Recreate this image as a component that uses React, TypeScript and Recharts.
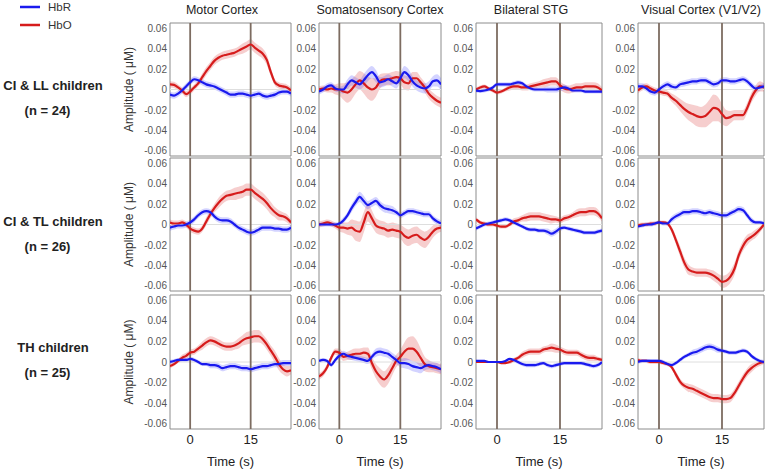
import React from 'react';
import { ComposedChart, Line, Area, XAxis, YAxis, ReferenceLine, ReferenceArea } from 'recharts';

// ---------- categories / labels ----------
const regions = ['Motor Cortex', 'Somatosensory Cortex', 'Bilateral STG', 'Visual Cortex (V1/V2)'];
const groups = ['CI & LL children', 'CI & TL children', 'TH children'];
const groupN = ['(n = 24)', '(n = 26)', '(n = 25)'];
const seriesNames = ['HbR', 'HbO'];
const yTicks = [60, 40, 20, 0, -20, -40, -60];
const yTickLabels = ['0.06', '0.04', '0.02', '0', '-0.02', '-0.04', '-0.06'];
const xTicks = [0, 15];
const stimLines = [0, 15];
const yLabel = 'Amplitude ( μM)';
const xLabel = 'Time (s)';

// time axis (s)
const time = [-5, -4, -3, -2, -1, 0, 1, 2, 3, 4, 5, 6, 7, 8, 9, 10, 11, 12, 13, 14, 15, 16, 17, 18, 19, 20, 21, 22, 23, 24, 25];

// ---------- values in units of 0.001 μM ----------
// CI & LL children
const hboLLMotor = [5, 4.5, 2, -1, -4.5, -2, 2, 6, 12, 18, 23, 28, 31, 33, 34, 35, 36, 38, 40, 42, 44, 41, 38, 35, 29, 17, 7, 4, 3, 2, -1];
const hbrLLMotor = [-5, -6, -4, -1, 3, 7, 10, 9, 7, 5, 4, 3, 1, -1, -3, -5, -5, -4, -4, -5, -6, -5, -4, -6, -7, -6, -5, -3, -2, -2, -4];
const hboLLSoma = [0, 1, 0, 1, 0, 0, -2, -3, 0, 5, 9, 6, 2, 0, 2, 8, 10, 10, 11, 12, 11, 7, 6, 11, 11, 7, 2, -4, -8, -11, -13];
const hbrLLSoma = [-2, 0, 3, 4, 1, 0, 0, 5, 9, 7, 5, 9, 14, 17, 13, 7, 8, 10, 8, 6, 11, 17, 14, 8, 4, 2, 1, 3, 8, 9, 5];
const hboLLStg = [0, 2, 3, 1, -1, -3, -2, 0, 2, 3, 3, 2, 2, 3, 4, 5, 6, 7, 8, 8, 4, 1, 0, 1, 2, 2, 3, 3, 3, 2, -1];
const hbrLLStg = [-1, -1.5, -1, 0, 2, 5, 5, 5, 5, 6, 7, 6, 3, 1, 0, 0, 0, 0, 0, 0, 1, 2, 1, -1, -1, -1, -2, -2, -2, -2, -2];
const hboLLVis = [-1, 2, 3, 1, -1, -2, -3, -4, -8, -11, -15, -19, -22, -24, -26, -27, -26, -22, -18, -19, -24, -28, -27, -25, -25, -25, -18, -8, -1, 3, 2];
const hbrLLVis = [3, 3, 1, -2, -3, 0, 3, 5, 3, 2, 5, 6, 7, 8, 8, 9, 9, 7, 5, 6, 9, 9, 8, 8, 9, 10, 8, 4, 1, 2, 3];

const errHboLLMotor = [3, 3, 3, 3, 3, 3, 3, 3, 4, 4, 4, 4, 4, 4, 4, 4, 4, 4, 5, 5, 5, 5, 5, 5, 5, 4, 3, 3, 3, 3, 3];
const errHbrLLMotor = [3, 3, 3, 3, 3, 3, 3, 3, 3, 3, 3, 3, 3, 3, 3, 3, 3, 3, 3, 3, 3, 3, 3, 3, 3, 3, 3, 3, 3, 3, 3];
const errHboLLSoma = [3, 3, 3, 4, 5, 6, 8, 10, 10, 9, 9, 10, 11, 11, 9, 7, 6, 6, 6, 6, 6, 7, 7, 6, 6, 5, 5, 5, 5, 5, 5];
const errHbrLLSoma = [3, 3, 3, 3, 3, 3, 4, 5, 5, 5, 5, 6, 6, 6, 6, 5, 5, 5, 5, 5, 5, 6, 6, 5, 5, 5, 5, 5, 5, 6, 6];
const errHboLLStg = [2, 2, 2, 2, 2, 2, 2, 2, 3, 3, 3, 3, 3, 3, 3, 3, 4, 4, 4, 4, 4, 4, 4, 4, 4, 4, 4, 4, 4, 4, 3];
const errHbrLLStg = [2, 2, 2, 2, 2, 2, 2, 2, 2, 2, 2, 2, 2, 2, 2, 2, 2, 3, 3, 3, 3, 3, 2, 2, 2, 2, 2, 2, 2, 2, 2];
const errHboLLVis = [3, 3, 3, 3, 3, 3, 3, 3, 4, 5, 6, 7, 8, 9, 10, 10, 11, 12, 13, 12, 10, 8, 6, 5, 5, 5, 5, 5, 5, 5, 4];
const errHbrLLVis = [3, 3, 3, 3, 3, 3, 3, 3, 3, 3, 3, 3, 3, 3, 3, 3, 3, 3, 3, 3, 3, 3, 3, 3, 3, 3, 3, 3, 3, 3, 3];

// CI & TL children
const hboTLMotor = [2, 1, 1, 2, 0, -4, -6, -7, -4, 3, 10, 16, 21, 25, 28, 29, 30, 31, 32, 34, 34, 31, 28, 25, 21, 16, 12, 9, 8, 6, 2];
const hbrTLMotor = [-3, -2, -1, -1, 0, 2, 5, 9, 12, 13, 12, 8, 5, 4, 4, 3, 0, -3, -5, -7, -8, -7, -5, -3, -3, -3, -4, -4, -5, -5, -3];
const hboTLSoma = [0, 1, 2, 1, -1, -3, -3, -4, -3, -6, -7, 2, 12, 6, -1, -3, -4, -6, -5, -6, -7, -11, -13, -11, -10, -13, -15, -12, -7, -4, -3];
const hbrTLSoma = [0, 0, 0, 0, 0, 1, 4, 9, 16, 22, 27, 23, 19, 21, 23, 19, 16, 15, 14, 12, 9, 11, 13, 13, 12, 11, 10, 10, 6, 3, 1];
const hboTLStg = [5, 2, 1, 0, 0, -1, -2, -2, 0, 3, 4, 6, 7, 8, 8, 8, 7, 6, 5, 5, 4, 6, 7, 9, 11, 12, 12, 13, 13, 11, 6];
const hbrTLStg = [-4, -2, 0, 1, 2, 3, 4, 5, 4, 2, 0, -2, -4, -5, -5, -6, -6, -7, -9, -7, -4, -3, -4, -5, -6, -7, -8, -8, -8, -7, -6];
const hboTLVis = [-1, 0, 0, 1, 1, 2, 2, 1, -5, -15, -26, -37, -44, -46, -47, -47, -47, -48, -50, -53, -56, -55, -51, -43, -30, -21, -15, -12, -9, -5, 0];
const hbrTLVis = [-2, -1, 0, 0, 1, 2, 1, 1, 5, 8, 10, 12, 12, 13, 13, 12, 11, 12, 11, 10, 9, 9, 11, 13, 15, 14, 9, 4, 2, 2, 1];

const errHboTLMotor = [3, 3, 3, 3, 3, 3, 3, 3, 3, 4, 4, 4, 5, 5, 5, 5, 6, 6, 6, 6, 6, 6, 6, 6, 6, 6, 5, 5, 4, 4, 3];
const errHbrTLMotor = [3, 3, 3, 3, 3, 3, 3, 3, 3, 3, 3, 3, 3, 3, 3, 3, 3, 3, 3, 3, 3, 3, 3, 3, 3, 3, 3, 3, 3, 3, 3];
const errHboTLSoma = [3, 3, 3, 3, 3, 4, 5, 6, 8, 10, 10, 10, 9, 8, 7, 7, 7, 7, 7, 7, 7, 8, 8, 8, 8, 8, 8, 7, 6, 5, 4];
const errHbrTLSoma = [2, 2, 2, 2, 2, 2, 3, 3, 4, 4, 5, 5, 4, 4, 4, 4, 4, 4, 4, 3, 3, 3, 3, 3, 3, 3, 3, 3, 3, 3, 3];
const errHboTLStg = [2, 2, 2, 2, 2, 2, 2, 2, 2, 3, 3, 3, 4, 4, 4, 4, 4, 4, 4, 3, 3, 3, 3, 3, 4, 4, 4, 4, 4, 4, 3];
const errHbrTLStg = [2, 2, 2, 2, 2, 2, 2, 2, 2, 2, 2, 2, 2, 2, 2, 2, 2, 3, 3, 3, 3, 2, 2, 2, 2, 2, 2, 2, 2, 2, 2];
const errHboTLVis = [2, 2, 2, 2, 2, 2, 2, 2, 3, 4, 5, 5, 5, 4, 4, 4, 4, 4, 5, 5, 6, 6, 6, 6, 5, 5, 5, 4, 4, 3, 2];
const errHbrTLVis = [2, 2, 2, 2, 2, 2, 2, 2, 3, 3, 3, 3, 3, 3, 3, 3, 3, 3, 3, 3, 3, 3, 3, 3, 3, 3, 3, 3, 2, 2, 2];

// TH children
const hboTHMotor = [-4, -2, 1, 4, 6, 9, 10, 13, 16, 19, 21, 20, 18, 16, 15, 15, 16, 18, 21, 23, 24, 25, 25, 22, 17, 11, 5, -2, -7, -9, -8];
const hbrTHMotor = [0, 1, 2, 2, 2, 3, 2, 0, -2, -2, -3, -3, -4, -6, -5, -4, -4, -5, -6, -6, -7, -6, -5, -4, -4, -3, -2, -2, -1, -1, -1];
const hboTHSoma = [-14, -11, -5, 4, 10, 9, 5, 6, 7, 8, 8, 9, 8, -1, -9, -14, -17, -13, -6, 1, 5, 10, 13, 13, 10, 4, -2, -4, -5, -6, -7];
const hbrTHSoma = [1, 2, 1, -3, 2, 6, 8, 6, 5, 4, 3, 2, 1, 5, 9, 10, 9, 8, 5, 2, -1, -1, -2, -4, -5, -6, -4, -3, -4, -5, -7];
const hboTHStg = [0, 0, 0, 0, 0, 0, -1, -1, 0, 2, 4, 7, 9, 10, 10, 10, 12, 13, 14, 13, 12, 10, 9, 9, 9, 7, 5, 4, 4, 3, 2];
const hbrTHStg = [1, 1, 1, 0, 0, 0, 0, 1, 3, 2, 0, -2, -3, -3, -3, -2, -1, -3, -4, -3, -2, -1, -1, -1, -1, -1, -2, -3, -4, -3, 0];
const hboTHVis = [2, 1, 1, 0, 0, 0, -1, -2, -5, -12, -19, -23, -25, -26, -28, -30, -32, -34, -35, -35, -36, -36, -35, -30, -23, -16, -10, -6, -3, -1, 0];
const hbrTHVis = [0, 1, 1, 1, 1, 1, 0, -2, -3, -1, 2, 5, 7, 9, 10, 12, 14, 15, 14, 12, 11, 10, 9, 9, 10, 11, 10, 6, 3, 1, 0];

const errHboTHMotor = [2, 2, 2, 3, 3, 3, 3, 3, 4, 4, 4, 4, 4, 4, 4, 4, 4, 5, 5, 6, 6, 6, 6, 5, 5, 5, 6, 6, 5, 5, 4];
const errHbrTHMotor = [2, 2, 2, 2, 2, 2, 2, 2, 2, 2, 3, 3, 3, 3, 3, 3, 3, 3, 3, 3, 3, 3, 3, 3, 3, 3, 3, 3, 3, 3, 3];
const errHboTHSoma = [3, 3, 3, 3, 3, 4, 4, 4, 5, 5, 5, 5, 6, 6, 7, 8, 8, 8, 7, 6, 7, 9, 11, 12, 11, 9, 7, 6, 5, 5, 5];
const errHbrTHSoma = [2, 2, 2, 2, 2, 3, 3, 3, 3, 3, 3, 3, 3, 3, 4, 4, 4, 4, 4, 4, 4, 5, 5, 5, 5, 5, 4, 4, 4, 4, 4];
const errHboTHStg = [1, 1, 1, 1, 1, 1, 1, 1, 2, 2, 2, 3, 3, 3, 3, 3, 3, 3, 4, 4, 3, 3, 3, 3, 3, 3, 3, 3, 3, 2, 2];
const errHbrTHStg = [1, 1, 1, 1, 1, 1, 1, 1, 1, 2, 2, 2, 2, 2, 2, 2, 2, 2, 2, 2, 2, 2, 2, 2, 2, 2, 2, 2, 2, 2, 2];
const errHboTHVis = [2, 2, 2, 2, 2, 2, 2, 2, 2, 3, 3, 3, 4, 4, 4, 4, 4, 4, 4, 4, 4, 4, 4, 4, 4, 4, 4, 4, 3, 3, 2];
const errHbrTHVis = [2, 2, 2, 2, 2, 2, 2, 2, 2, 2, 2, 2, 2, 3, 3, 3, 3, 3, 3, 3, 2, 2, 2, 2, 2, 2, 2, 2, 2, 2, 2];

// ---------- table for the grid ----------
type PanelData = { hbo: number[]; hbr: number[]; eo: number[]; er: number[] };
const panels: PanelData[][] = [
  [
    { hbo: hboLLMotor, hbr: hbrLLMotor, eo: errHboLLMotor, er: errHbrLLMotor },
    { hbo: hboLLSoma, hbr: hbrLLSoma, eo: errHboLLSoma, er: errHbrLLSoma },
    { hbo: hboLLStg, hbr: hbrLLStg, eo: errHboLLStg, er: errHbrLLStg },
    { hbo: hboLLVis, hbr: hbrLLVis, eo: errHboLLVis, er: errHbrLLVis },
  ],
  [
    { hbo: hboTLMotor, hbr: hbrTLMotor, eo: errHboTLMotor, er: errHbrTLMotor },
    { hbo: hboTLSoma, hbr: hbrTLSoma, eo: errHboTLSoma, er: errHbrTLSoma },
    { hbo: hboTLStg, hbr: hbrTLStg, eo: errHboTLStg, er: errHbrTLStg },
    { hbo: hboTLVis, hbr: hbrTLVis, eo: errHboTLVis, er: errHbrTLVis },
  ],
  [
    { hbo: hboTHMotor, hbr: hbrTHMotor, eo: errHboTHMotor, er: errHbrTHMotor },
    { hbo: hboTHSoma, hbr: hbrTHSoma, eo: errHboTHSoma, er: errHbrTHSoma },
    { hbo: hboTHStg, hbr: hbrTHStg, eo: errHboTHStg, er: errHbrTHStg },
    { hbo: hboTHVis, hbr: hbrTHVis, eo: errHboTHVis, er: errHbrTHVis },
  ],
];

// ---------- layout / style ----------
const colLeft = [170, 319, 476, 638];
const colWidth = [121, 122, 126, 126];
const rowTop = [23, 158, 295];
const rowH = [133, 133, 134];
const titleX = [222, 380, 531, 701];
const groupY = [85, 221, 347];
const AX = 32;

const RED = '#d61c1c';
const BLUE = '#1a1aee';
const RED_BAND = 'rgba(222, 80, 80, 0.28)';
const BLUE_BAND = 'rgba(80, 80, 255, 0.25)';
const BROWN = '#7d6c61';
const FONT = '"Liberation Sans", Arial, Helvetica, sans-serif';

const Panel = ({ r, c }: { r: number; c: number }) => {
  const p = panels[r][c];
  const data = time.map((t, i) => ({
    t,
    hbo: p.hbo[i],
    hbr: p.hbr[i],
    hboBand: [p.hbo[i] - p.eo[i], p.hbo[i] + p.eo[i]],
    hbrBand: [p.hbr[i] - p.er[i], p.hbr[i] + p.er[i]],
  }));
  const bottom = r === 2;
  const w = AX + colWidth[c] + 1;
  const h = 1 + rowH[r] + (bottom ? 45 : 1);
  return (
    <div style={{ position: 'absolute', left: colLeft[c] - AX, top: rowTop[r] - 1 }}>
      <ComposedChart width={w} height={h} data={data} margin={{ top: 1, right: 1, left: 0, bottom: bottom ? 0 : 1 }}>
        <XAxis
          type="number"
          dataKey="t"
          domain={[-5, 25]}
          ticks={xTicks}
          interval={0}
          hide={!bottom}
          allowDataOverflow
          axisLine={false}
          tickLine={false}
          tickSize={0}
          tickMargin={6}
          height={45}
          tick={{ fontSize: 13, fill: '#222' }}
          label={{ value: xLabel, position: 'insideBottom', offset: 8, fontSize: 13, fill: '#222' }}
        />
        <YAxis
          type="number"
          domain={[-65, 65]}
          ticks={yTicks}
          interval={0}
          allowDataOverflow
          tickFormatter={(v: number) => yTickLabels[yTicks.indexOf(v)]}
          width={AX}
          axisLine={false}
          tickLine={false}
          tickSize={0}
          tickMargin={3}
          tick={{ fontSize: 10, fill: '#555' }}
        />
        <ReferenceArea x1={-5} x2={25} y1={-65} y2={65} fill="none" stroke="#8c8c8c" strokeWidth={1} />
        <Area type="monotone" dataKey="hboBand" stroke="none" fill={RED_BAND} fillOpacity={1} isAnimationActive={false} activeDot={false} />
        <Area type="monotone" dataKey="hbrBand" stroke="none" fill={BLUE_BAND} fillOpacity={1} isAnimationActive={false} activeDot={false} />
        <ReferenceLine y={0} stroke="#dedede" strokeWidth={1} />
        {stimLines.map((x) => (
          <ReferenceLine key={x} x={x} stroke={BROWN} strokeWidth={1.8} />
        ))}
        <Line type="monotone" dataKey="hbo" stroke={RED} strokeWidth={2.2} dot={false} activeDot={false} isAnimationActive={false} />
        <Line type="monotone" dataKey="hbr" stroke={BLUE} strokeWidth={2.2} dot={false} activeDot={false} isAnimationActive={false} />
      </ComposedChart>
    </div>
  );
};

export default function App() {
  return (
    <div
      style={{
        position: 'absolute',
        left: 0,
        top: 0,
        width: 768,
        height: 472,
        background: '#fff',
        fontFamily: FONT,
        overflow: 'hidden',
      }}
    >
      <svg width={768} height={472} style={{ position: 'absolute', left: 0, top: 0 }}>
        {/* legend */}
        <line x1={20} x2={40} y1={7} y2={7} stroke={BLUE} strokeWidth={2.5} />
        <text x={48} y={7} fontSize={11.5} fill="#333" dominantBaseline="central">{seriesNames[0]}</text>
        <line x1={20} x2={40} y1={25} y2={25} stroke={RED} strokeWidth={2.5} />
        <text x={48} y={25} fontSize={11.5} fill="#333" dominantBaseline="central">{seriesNames[1]}</text>
        {/* column titles */}
        {regions.map((name, c) => (
          <text key={name} x={titleX[c]} y={10} fontSize={12.5} fill="#222" textAnchor="middle" dominantBaseline="central">
            {name}
          </text>
        ))}
        {/* row labels */}
        {groups.map((g, r) => (
          <g key={g}>
            <text x={53} y={groupY[r]} fontSize={13} fontWeight="bold" fill="#222" textAnchor="middle" dominantBaseline="central">
              {g}
            </text>
            <text x={47.5} y={groupY[r] + 25} fontSize={13} fontWeight="bold" fill="#222" textAnchor="middle" dominantBaseline="central">
              {groupN[r]}
            </text>
            <text
              x={128.5}
              y={rowTop[r] + rowH[r] / 2}
              fontSize={12}
              fill="#333"
              textAnchor="middle"
              dominantBaseline="central"
              transform={`rotate(-90 128.5 ${rowTop[r] + rowH[r] / 2})`}
            >
              {yLabel}
            </text>
          </g>
        ))}
      </svg>
      {panels.map((row, r) => row.map((_, c) => <Panel key={`${r}-${c}`} r={r} c={c} />))}
    </div>
  );
}
